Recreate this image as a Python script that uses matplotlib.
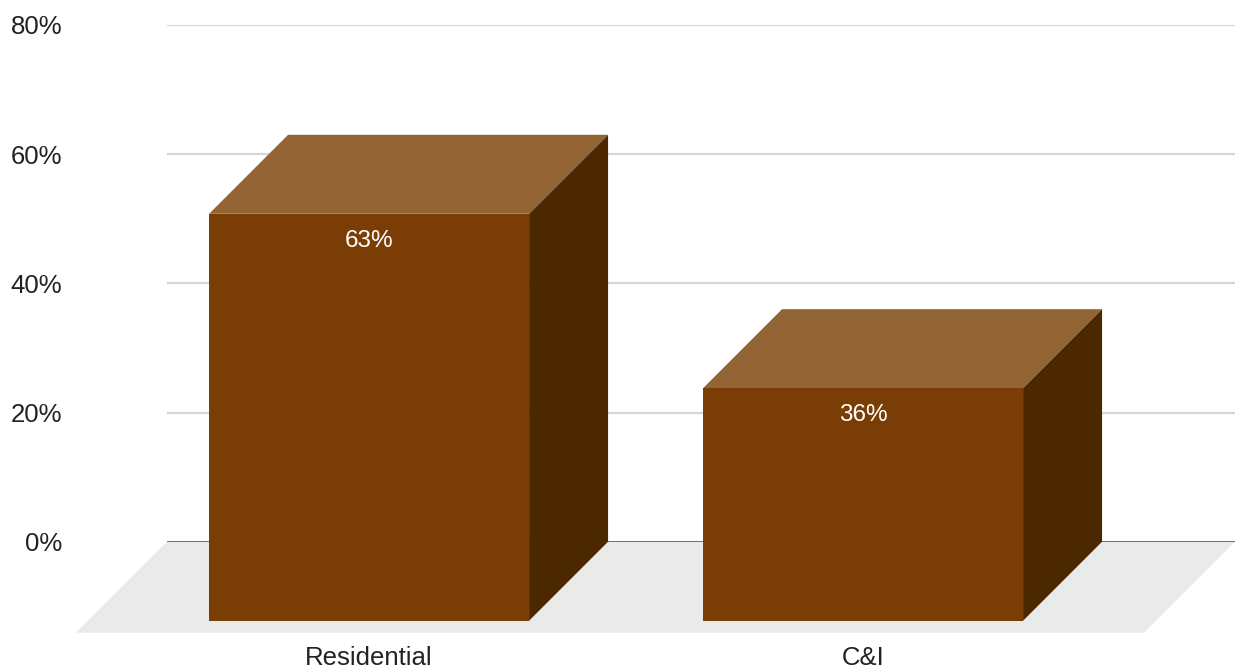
import matplotlib
matplotlib.use("Agg")
import matplotlib.pyplot as plt
from matplotlib.patches import Polygon

# Data
categories = ["Residential", "C&I"]
shares = [63, 36]
y_ticks = [0, 20, 40, 60, 80]

# Colours for the faces of each box
FRONT = "#7a3d05"
TOP = "#936434"
SIDE = "#4b2800"
FLOOR = "#eaeaea"

plt.rcParams["font.family"] = ["Liberation Sans", "DejaVu Sans"]

W, H = 1235, 672
fig = plt.figure(figsize=(W / 100, H / 100), dpi=100)
ax = fig.add_axes([167 / W, (H - 541.7) / H, (W - 167) / W, (541.7 - 25) / H])
ax.set_xlim(-0.569, 1.593)
ax.set_ylim(0, 80)

# Convert the pseudo-3D depth (in pixels) into data units
px_per_x = ax.transData.transform((1, 0))[0] - ax.transData.transform((0, 0))[0]
px_per_y = ax.transData.transform((0, 1))[1] - ax.transData.transform((0, 0))[1]
bar_depth = 79
floor_depth = 91
ddx, ddy = bar_depth / px_per_x, bar_depth / px_per_y
fdx, fdy = floor_depth / px_per_x, floor_depth / px_per_y
bar_w = 320 / px_per_x

# Gridlines on the back wall
for t in y_ticks[1:]:
    ax.axhline(t, color="#d6d6d6", lw=1.6, zorder=1)
ax.axhline(0, color="#444444", lw=1.8, zorder=1)

# Floor
x0, x1 = ax.get_xlim()
floor = Polygon([(x0, 0), (x1, 0), (x1 - fdx, -fdy), (x0 - fdx, -fdy)],
                closed=True, facecolor=FLOOR, edgecolor="none",
                clip_on=False, zorder=0)
ax.add_patch(floor)

for i, (cat, v) in enumerate(zip(categories, shares)):
    bl, br = i - bar_w / 2, i + bar_w / 2      # back face
    fl, fr = bl - ddx, br - ddx                # front face
    top = Polygon([(fl, v - ddy), (fr, v - ddy), (br, v), (bl, v)],
                  facecolor=TOP, edgecolor="none", clip_on=False, zorder=3)
    side = Polygon([(fr, v - ddy), (br, v), (br, 0), (fr, -ddy)],
                   facecolor=SIDE, edgecolor="none", clip_on=False, zorder=3)
    front = Polygon([(fl, -ddy), (fr, -ddy), (fr, v - ddy), (fl, v - ddy)],
                    facecolor=FRONT, edgecolor="none", clip_on=False, zorder=4)
    for p in (top, side, front):
        ax.add_patch(p)

    cx = i - ddx
    ax.annotate(f"{v}%", xy=(cx, v - ddy), xytext=(0, -27 * 0.72),
                textcoords="offset points", ha="center", va="center",
                color="white", fontsize=17.5, zorder=5, annotation_clip=False)
    ax.annotate(cat, xy=(cx, -ddy), xytext=(0, -37 * 0.72),
                textcoords="offset points", ha="center", va="center",
                color="#222222", fontsize=18.5, zorder=5, annotation_clip=False)

ax.set_yticks(y_ticks)
ax.set_yticklabels([f"{t}%" for t in y_ticks], fontsize=18.5, color="#222222")
ax.tick_params(axis="y", length=0, pad=105 * 0.72)
ax.set_xticks([])
for s in ax.spines.values():
    s.set_visible(False)
ax.patch.set_visible(False)

fig.savefig("out.png", dpi=100, facecolor="white")
